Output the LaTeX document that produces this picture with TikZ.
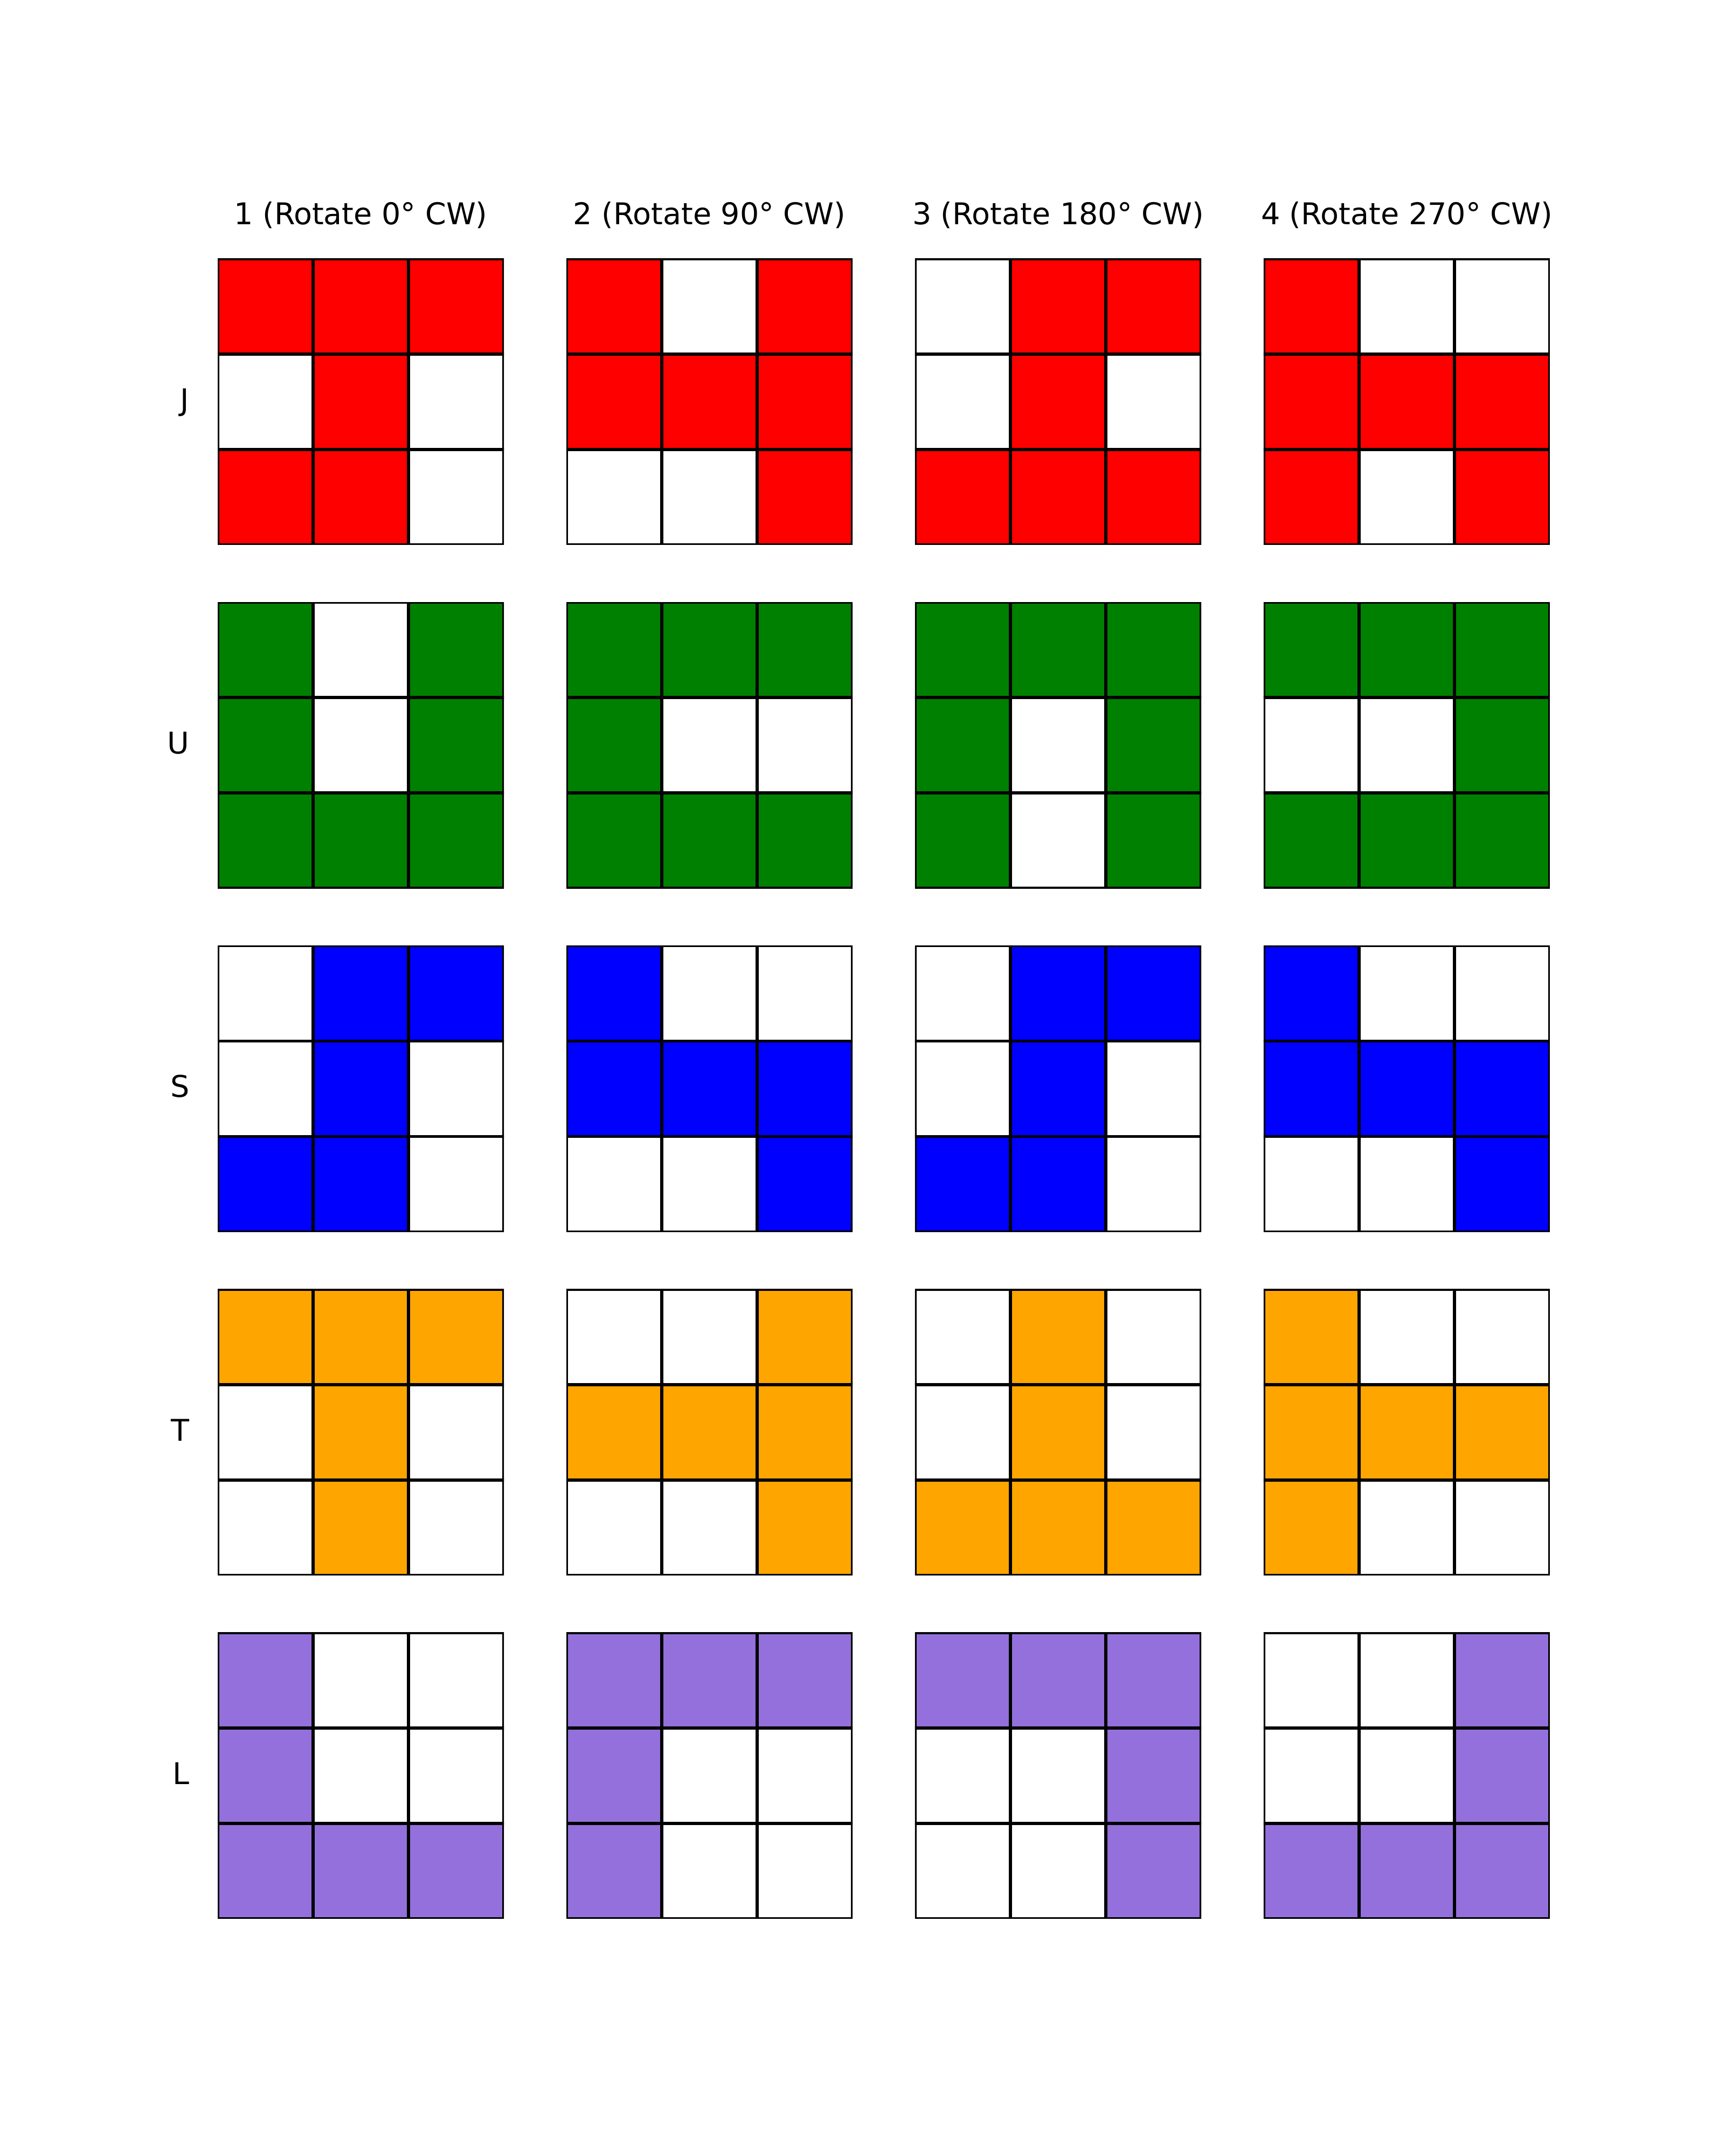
\documentclass[tikz,border=0pt]{standalone}
\usepackage{fontspec}
\setmainfont{DejaVu Sans}
\definecolor{piece-red}{HTML}{FF0000}
\definecolor{piece-green}{HTML}{008000}
\definecolor{piece-blue}{HTML}{0000FF}
\definecolor{piece-orange}{HTML}{FFA500}
\definecolor{piece-purple}{HTML}{9370DB}

\begin{document}
\begin{tikzpicture}[
    cell/.style={draw=black, line width=1.6pt},
    head/.style={font=\fontsize{15.8}{19}\selectfont, inner sep=0pt, anchor=base},
    lbl/.style={font=\fontsize{15.8}{19}\selectfont, inner sep=0pt, anchor=base east},
]
    \useasboundingbox (0,0) rectangle (32,40);
    \def\cs{1.7701}

    % Column titles
    \foreach \col/\ang in {0/0,1/90,2/180,3/270} {
        \pgfmathsetmacro\tx{6.6955+6.4696*\col}
        \pgfmathtruncatemacro\nr{\col+1}
        \node[head] (rot\nr) at (\tx, 35.835) {\nr\ (Rotate \ang° CW)};
    }

    % Pieces, one row per letter
    \foreach \row/\clr/\name/\pats in {
        0/piece-red/J/{{1,1,1,0,1,0,1,1,0},{1,0,1,1,1,1,0,0,1},{0,1,1,0,1,0,1,1,1},{1,0,0,1,1,1,1,0,1}},
        1/piece-green/U/{{1,0,1,1,0,1,1,1,1},{1,1,1,1,0,0,1,1,1},{1,1,1,1,0,1,1,0,1},{1,1,1,0,0,1,1,1,1}},
        2/piece-blue/S/{{0,1,1,0,1,0,1,1,0},{1,0,0,1,1,1,0,0,1},{0,1,1,0,1,0,1,1,0},{1,0,0,1,1,1,0,0,1}},
        3/piece-orange/T/{{1,1,1,0,1,0,0,1,0},{0,0,1,1,1,1,0,0,1},{0,1,0,0,1,0,1,1,1},{1,0,0,1,1,1,1,0,0}},
        4/piece-purple/L/{{1,0,0,1,0,0,1,1,1},{1,1,1,1,0,0,1,0,0},{1,1,1,0,0,1,0,0,1},{0,0,1,0,0,1,1,1,1}}%
    } {
        \pgfmathsetmacro\gy{35.20-6.3724*\row}
        \node[lbl] (lbl\name) at (3.52, \gy-2.655-0.16) {\name};
        \foreach \pat [count=\col from 0] in \pats {
            \pgfmathsetmacro\gx{4.0405+6.4696*\col}
            \begin{scope}
                \clip (\gx,\gy) rectangle ++(3*\cs,-3*\cs);
                \foreach \val [count=\idx from 0] in \pat {
                    \pgfmathtruncatemacro\cx{mod(\idx,3)}
                    \pgfmathtruncatemacro\cy{div(\idx,3)}
                    \ifnum\val=1 \def\fc{\clr}\else\def\fc{white}\fi
                    \draw[cell, fill=\fc] (\gx+\cx*\cs, \gy-\cy*\cs) rectangle ++(\cs,-\cs);
                }
            \end{scope}
        }
    }
\end{tikzpicture}
\end{document}
